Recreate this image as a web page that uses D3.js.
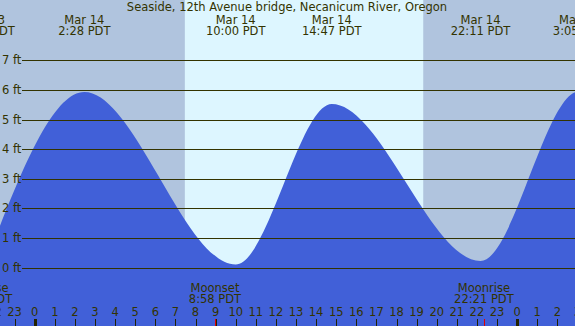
<!DOCTYPE html>
<html>
<head>
<meta charset="utf-8">
<script src="https://cdn.jsdelivr.net/npm/d3@7"></script>
<style>
  html, body { margin: 0; padding: 0; background: #fff; }
  svg { display: block; }
  text { font-family: "DejaVu Sans", sans-serif; fill: #333300; }
</style>
</head>
<body>
<div id="chart"></div>
<script>
// tide extremes, hours from midnight Mar 14 (PDT)
const tideHours = [-2.47, 2.47, 10.0, 14.78, 22.18, 27.08, 33.7];
const tideFeet = [0.1, 5.93, 0.1, 5.52, 0.22, 5.95, 0.05];

// top labels for each extreme
const tideDates = ["Mar 13", "Mar 14", "Mar 14", "Mar 14", "Mar 14", "Mar 15"];
const tideTimes = ["21:28 PDT", "2:28 PDT", "10:00 PDT", "14:47 PDT", "22:11 PDT", "3:05 PDT"];

// sun (daylight band) and moon events
const sunrise = 7.47;
const sunset = 19.33;
const moonHours = [-2.6, 8.97, 22.35];
const moonNames = ["Moonrise", "Moonset", "Moonrise"];
const moonTimes = ["21:24 PDT", "8:58 PDT", "22:21 PDT"];

const feetTicks = [0, 1, 2, 3, 4, 5, 6, 7];
const hourTicks = d3.range(-2, 28);

const title = "Seaside, 12th Avenue bridge, Necanicum River, Oregon";

const width = 575, height = 326;
const fontSize = "11.5px";

const svg = d3.select("#chart").append("svg")
    .attr("width", width)
    .attr("height", height);

let x = d3.scaleLinear().domain([0, 24]).range([34.7, 517.1]);
let y = d3.scaleLinear().domain([0, 7]).range([267.5, 60.3]);

// night / day background
svg.append("rect")
    .attr("x", 0).attr("y", 0)
    .attr("width", width).attr("height", height)
    .attr("fill", "#b0c4de");

svg.append("rect")
    .attr("x", x(sunrise)).attr("y", 0)
    .attr("width", x(sunset) - x(sunrise)).attr("height", height)
    .attr("fill", "#ddf6ff");

// tide area
let tide = tideHours.map((h, i) => ({h: h, ft: tideFeet[i]}));

let area = d3.area()
    .x(d => x(d.h))
    .y0(height)
    .y1(d => y(d.ft))
    .curve(d3.curveMonotoneX);

svg.append("path")
    .datum(tide)
    .attr("d", area)
    .attr("fill", "#4160d8");

// horizontal grid + labels
svg.selectAll(".grid").data(feetTicks).enter()
    .append("line")
    .attr("class", "grid")
    .attr("x1", 22).attr("x2", width)
    .attr("y1", d => Math.round(y(d)) + 0.5)
    .attr("y2", d => Math.round(y(d)) + 0.5)
    .attr("stroke", "#333300")
    .attr("stroke-width", 1);

svg.selectAll(".ylab").data(feetTicks).enter()
    .append("text")
    .attr("class", "ylab")
    .attr("x", 2)
    .attr("y", d => y(d) + 4)
    .attr("font-size", fontSize)
    .text(d => d + " ft");

// title
svg.append("text")
    .attr("x", 287).attr("y", 11)
    .attr("text-anchor", "middle")
    .attr("font-size", fontSize)
    .text(title);

// extreme labels at top
let tops = svg.selectAll(".top").data(tideDates).enter()
    .append("g")
    .attr("class", "top");

tops.append("text")
    .attr("x", (d, i) => x(tideHours[i]))
    .attr("y", 24)
    .attr("text-anchor", "middle")
    .attr("font-size", fontSize)
    .text(d => d);

tops.append("text")
    .attr("x", (d, i) => x(tideHours[i]))
    .attr("y", 35)
    .attr("text-anchor", "middle")
    .attr("font-size", fontSize)
    .text((d, i) => tideTimes[i]);

// moon events
let moons = svg.selectAll(".moon").data(moonNames).enter()
    .append("g")
    .attr("class", "moon");

moons.append("text")
    .attr("x", (d, i) => x(moonHours[i]))
    .attr("y", 292)
    .attr("text-anchor", "middle")
    .attr("font-size", fontSize)
    .text(d => d);

moons.append("text")
    .attr("x", (d, i) => x(moonHours[i]))
    .attr("y", 303)
    .attr("text-anchor", "middle")
    .attr("font-size", fontSize)
    .text((d, i) => moonTimes[i]);

moons.append("line")
    .attr("x1", (d, i) => Math.round(x(moonHours[i])) + 0.5)
    .attr("x2", (d, i) => Math.round(x(moonHours[i])) + 0.5)
    .attr("y1", 319).attr("y2", height)
    .attr("stroke", "#e00000");

// hour axis
let hourLabel = h => ((h % 24) + 24) % 24;

svg.selectAll(".hlab").data(hourTicks).enter()
    .append("text")
    .attr("class", "hlab")
    .attr("x", d => x(d))
    .attr("y", 316)
    .attr("text-anchor", "middle")
    .attr("font-size", fontSize)
    .text(d => hourLabel(d));

svg.selectAll(".htick").data(hourTicks).enter()
    .append("line")
    .attr("class", "htick")
    .attr("x1", d => Math.round(x(d)) + 0.5)
    .attr("x2", d => Math.round(x(d)) + 0.5)
    .attr("y1", 319).attr("y2", height)
    .attr("stroke", "#222200")
    .attr("stroke-width", d => hourLabel(d) === 0 ? 3 : 1);
</script>
</body>
</html>
